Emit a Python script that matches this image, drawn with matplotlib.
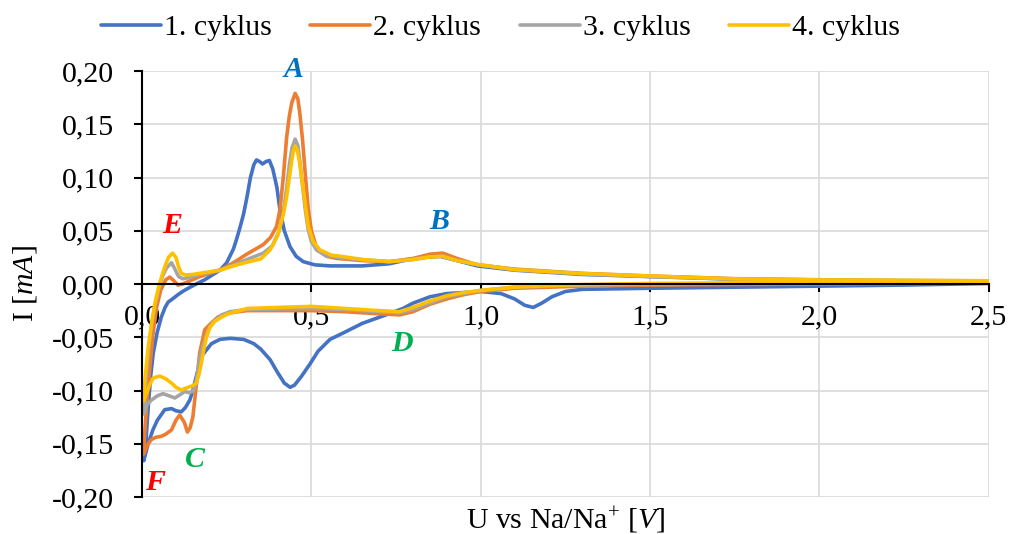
import numpy as np
import matplotlib.pyplot as plt
from matplotlib.ticker import MultipleLocator, FuncFormatter

plt.rcParams['font.family'] = 'Liberation Serif'
plt.rcParams['mathtext.fontset'] = 'custom'
plt.rcParams['mathtext.rm'] = 'Liberation Serif'
plt.rcParams['mathtext.it'] = 'Liberation Serif:italic'

# 1. cyklus - katodicky (2,5 -> 0) a anodicky (0 -> 2,5) sken
u1_red = [2.50, 2.25, 2.00, 1.75, 1.50, 1.40, 1.30, 1.25, 1.21, 1.18, 1.155, 1.13, 1.10, 1.06,
          1.00, 0.95, 0.90, 0.85, 0.80, 0.77, 0.72, 0.65, 0.60, 0.555, 0.52, 0.496, 0.47, 0.45,
          0.437, 0.42, 0.40, 0.378, 0.35, 0.33, 0.30, 0.26, 0.23, 0.205, 0.19, 0.175, 0.16, 0.15,
          0.141, 0.128, 0.116, 0.10, 0.087, 0.067, 0.045, 0.032, 0.018, 0.005]
i1_red = [0.0005, -0.001, -0.002, -0.003, -0.004, -0.0045, -0.005, -0.007, -0.012, -0.018, -0.022,
          -0.020, -0.014, -0.009, -0.007, -0.008, -0.009, -0.012, -0.018, -0.023, -0.029, -0.037,
          -0.045, -0.052, -0.063, -0.075, -0.087, -0.095, -0.097, -0.093, -0.083, -0.071, -0.061,
          -0.056, -0.052, -0.051, -0.052, -0.056, -0.062, -0.068, -0.087, -0.100, -0.109, -0.116,
          -0.120, -0.119, -0.117, -0.118, -0.128, -0.137, -0.150, -0.166]
u1_ox = [0.005, 0.012, 0.019, 0.026, 0.033, 0.045, 0.057, 0.068, 0.077, 0.09, 0.106, 0.12, 0.136,
         0.16, 0.185, 0.21, 0.23, 0.25, 0.27, 0.28, 0.29, 0.30, 0.31, 0.32, 0.33, 0.338, 0.347,
         0.356, 0.366, 0.376, 0.386, 0.398, 0.407, 0.42, 0.437, 0.455, 0.476, 0.51, 0.555, 0.65,
         0.73, 0.78, 0.83, 0.88, 0.93, 0.99, 1.10, 1.30, 1.50, 1.75, 2.00, 2.25, 2.50]
i1_ox = [-0.166, -0.145, -0.112, -0.085, -0.065, -0.045, -0.031, -0.022, -0.017, -0.014, -0.010,
         -0.007, -0.004, 0.000, 0.004, 0.009, 0.013, 0.020, 0.033, 0.043, 0.054, 0.066, 0.082, 0.100,
         0.112, 0.1165, 0.115, 0.1127, 0.115, 0.116, 0.108, 0.091, 0.070, 0.050, 0.035, 0.026,
         0.021, 0.018, 0.017, 0.017, 0.019, 0.0225, 0.025, 0.026, 0.022, 0.017, 0.013, 0.009,
         0.007, 0.0045, 0.003, 0.0025, 0.002]

# 2. cyklus
u2_red = [2.50, 2.25, 2.00, 1.75, 1.50, 1.30, 1.20, 1.10, 1.00, 0.95, 0.90, 0.85, 0.80, 0.76,
          0.70, 0.60, 0.50, 0.40, 0.31, 0.26, 0.224, 0.20, 0.185, 0.17, 0.16, 0.15, 0.142, 0.134,
          0.125, 0.111, 0.10, 0.087, 0.07, 0.057, 0.04, 0.028, 0.018, 0.008, 0.004]
i2_red = [0.001, 0.0005, 0.000, -0.0005, -0.001, -0.002, -0.003, -0.004, -0.007, -0.010, -0.014,
          -0.019, -0.026, -0.029, -0.028, -0.026, -0.025, -0.025, -0.025, -0.027, -0.031, -0.038,
          -0.043, -0.065, -0.096, -0.125, -0.135, -0.139, -0.130, -0.123, -0.128, -0.137, -0.141,
          -0.143, -0.144, -0.146, -0.150, -0.157, -0.160]
u2_ox = [0.004, 0.01, 0.017, 0.024, 0.033, 0.043, 0.055, 0.07, 0.082, 0.094, 0.106, 0.12, 0.142,
         0.17, 0.20, 0.23, 0.27, 0.309, 0.358, 0.38, 0.397, 0.407, 0.417, 0.427, 0.435, 0.442,
         0.452, 0.46, 0.466, 0.474, 0.481, 0.491, 0.50, 0.516, 0.545, 0.575, 0.65, 0.73, 0.80,
         0.85, 0.888, 0.93, 0.99, 1.10, 1.30, 1.50, 1.75, 2.00, 2.25, 2.50]
i2_ox = [-0.160, -0.130, -0.100, -0.075, -0.045, -0.022, -0.006, 0.004, 0.0065, 0.003, -0.001,
         0.000, 0.003, 0.007, 0.010, 0.013, 0.020, 0.028, 0.037, 0.044, 0.054, 0.0695, 0.100,
         0.138, 0.158, 0.170, 0.179, 0.174, 0.160, 0.135, 0.107, 0.0695, 0.050, 0.033, 0.026,
         0.024, 0.022, 0.021, 0.024, 0.028, 0.029, 0.024, 0.018, 0.014, 0.010, 0.0075, 0.005,
         0.004, 0.003, 0.003]

# 3. cyklus
u3_red = [2.50, 2.25, 2.00, 1.75, 1.50, 1.30, 1.20, 1.10, 1.00, 0.95, 0.90, 0.85, 0.80, 0.76,
          0.70, 0.60, 0.50, 0.40, 0.31, 0.26, 0.235, 0.215, 0.20, 0.19, 0.18, 0.172, 0.165, 0.158,
          0.15, 0.138, 0.126, 0.112, 0.097, 0.08, 0.062, 0.045, 0.028, 0.015, 0.005]
i3_red = [0.002, 0.0015, 0.001, 0.0005, 0.000, -0.001, -0.002, -0.003, -0.006, -0.009, -0.012,
          -0.018, -0.024, -0.027, -0.026, -0.024, -0.023, -0.0235, -0.024, -0.026, -0.029, -0.034,
          -0.040, -0.048, -0.058, -0.068, -0.081, -0.095, -0.101, -0.102, -0.101, -0.104, -0.107,
          -0.105, -0.103, -0.105, -0.109, -0.113, -0.122]
u3_ox = [0.005, 0.012, 0.02, 0.03, 0.04, 0.05, 0.06, 0.072, 0.087, 0.097, 0.108, 0.12, 0.14, 0.17,
         0.20, 0.23, 0.27, 0.31, 0.358, 0.385, 0.405, 0.417, 0.427, 0.435, 0.443, 0.452, 0.46,
         0.466, 0.474, 0.482, 0.49, 0.50, 0.515, 0.54, 0.60, 0.73, 0.80, 0.85, 0.888, 0.93, 0.99,
         1.10, 1.30, 1.50, 1.75, 2.00, 2.25, 2.50]
i3_ox = [-0.122, -0.090, -0.060, -0.035, -0.018, -0.004, 0.007, 0.015, 0.020, 0.014, 0.007, 0.005,
         0.006, 0.009, 0.011, 0.013, 0.018, 0.023, 0.029, 0.036, 0.050, 0.068, 0.090, 0.112, 0.128,
         0.136, 0.130, 0.115, 0.092, 0.070, 0.052, 0.040, 0.032, 0.027, 0.024, 0.021, 0.023,
         0.0255, 0.026, 0.022, 0.018, 0.0135, 0.0095, 0.007, 0.0048, 0.0038, 0.0033, 0.003]

# 4. cyklus
u4_red = [2.50, 2.25, 2.00, 1.75, 1.50, 1.30, 1.20, 1.10, 1.00, 0.95, 0.90, 0.85, 0.80, 0.76,
          0.70, 0.60, 0.50, 0.40, 0.31, 0.254, 0.235, 0.215, 0.20, 0.19, 0.182, 0.175, 0.168, 0.16,
          0.15, 0.141, 0.128, 0.116, 0.10, 0.087, 0.07, 0.052, 0.04, 0.032, 0.022, 0.013, 0.004]
i4_red = [0.002, 0.0015, 0.001, 0.001, 0.0005, -0.0005, -0.0015, -0.003, -0.006, -0.008, -0.011,
          -0.016, -0.022, -0.026, -0.025, -0.023, -0.021, -0.022, -0.023, -0.028, -0.031, -0.035,
          -0.041, -0.050, -0.062, -0.0745, -0.085, -0.093, -0.0955, -0.0964, -0.098, -0.0995,
          -0.097, -0.093, -0.089, -0.0864, -0.0875, -0.0886, -0.095, -0.103, -0.110]
u4_ox = [0.004, 0.01, 0.018, 0.028, 0.038, 0.047, 0.057, 0.067, 0.078, 0.09, 0.10, 0.108, 0.116,
         0.128, 0.15, 0.19, 0.23, 0.27, 0.31, 0.35, 0.378, 0.40, 0.417, 0.427, 0.435, 0.442, 0.447,
         0.452, 0.458, 0.465, 0.471, 0.478, 0.484, 0.491, 0.505, 0.525, 0.56, 0.594, 0.65, 0.73,
         0.80, 0.85, 0.888, 0.93, 0.99, 1.10, 1.30, 1.50, 1.75, 2.00, 2.25, 2.50]
i4_ox = [-0.110, -0.085, -0.060, -0.037, -0.018, -0.0056, 0.006, 0.016, 0.025, 0.029, 0.025, 0.016,
         0.010, 0.0085, 0.009, 0.011, 0.013, 0.017, 0.0205, 0.0235, 0.032, 0.045, 0.065, 0.082,
         0.100, 0.116, 0.125, 0.1296, 0.126, 0.115, 0.100, 0.085, 0.0695, 0.054, 0.040, 0.032,
         0.027, 0.0257, 0.023, 0.021, 0.023, 0.0255, 0.026, 0.022, 0.0185, 0.0135, 0.0098, 0.0075,
         0.0048, 0.0038, 0.0035, 0.003]

labels = ['1. cyklus', '2. cyklus', '3. cyklus', '4. cyklus']
colors = ['#4472C4', '#ED7D31', '#A5A5A5', '#FFC000']

# popisky piku
peak_names = ['A', 'B', 'C', 'D', 'E', 'F']
peak_u = [0.446, 0.877, 0.156, 0.767, 0.088, 0.038]
peak_i = [0.201, 0.0585, -0.165, -0.056, 0.055, -0.186]
peak_colors = ['#0070C0', '#0070C0', '#00B050', '#00B050', '#FF0000', '#FF0000']

cycles = [(u1_red + u1_ox, i1_red + i1_ox),
          (u2_red + u2_ox, i2_red + i2_ox),
          (u3_red + u3_ox, i3_red + i3_ox),
          (u4_red + u4_ox, i4_red + i4_ox)]

fs = 21.5

fig = plt.figure(figsize=(10.11, 5.34), dpi=100)
ax = fig.add_axes([0.1405, 0.0693, 0.8375, 0.7977])

for (u, i), lab, c in zip(cycles, labels, colors):
    ax.plot(u, i, color=c, lw=2.6, label=lab, solid_joinstyle='round', solid_capstyle='round')

for name, x, y, c in zip(peak_names, peak_u, peak_i, peak_colors):
    ax.text(x, y, name, color=c, fontsize=fs, fontweight='bold', fontstyle='italic',
            ha='center', va='center')

ax.set_xlim(0, 2.5)
ax.set_ylim(-0.20, 0.20)
ax.xaxis.set_major_locator(MultipleLocator(0.5))
ax.yaxis.set_major_locator(MultipleLocator(0.05))
comma = lambda fmt: FuncFormatter(lambda v, p: (fmt % v).replace('.', ','))
ax.xaxis.set_major_formatter(comma('%.1f'))
ax.yaxis.set_major_formatter(comma('%.2f'))

ax.grid(True, color='#d9d9d9', lw=1.2)
ax.set_axisbelow(True)
for s in ['top', 'right']:
    ax.spines[s].set_visible(False)
ax.spines['bottom'].set_position(('data', 0))
ax.spines['bottom'].set_linewidth(1.5)
ax.spines['left'].set_linewidth(1.5)
ax.tick_params(axis='both', direction='out', length=6, width=1.5, labelsize=fs)
ax.tick_params(axis='x', pad=9)
ax.tick_params(axis='y', pad=14)

ax.set_xlabel(r'U vs Na/Na$^{+}$ $\mathit{[V]}$', fontsize=fs, labelpad=0)
ax.xaxis.set_label_coords(0.5, -0.018)
ax.set_ylabel(r'I $\mathit{[mA]}$', fontsize=fs)
ax.yaxis.set_label_coords(-0.122, 0.5)

fig.legend(loc='center', bbox_to_anchor=(0.495, 0.948), ncol=4, frameon=False, fontsize=fs,
           handlelength=2.0, handletextpad=0.1, columnspacing=1.3)

fig.savefig('out.png', dpi=100)
